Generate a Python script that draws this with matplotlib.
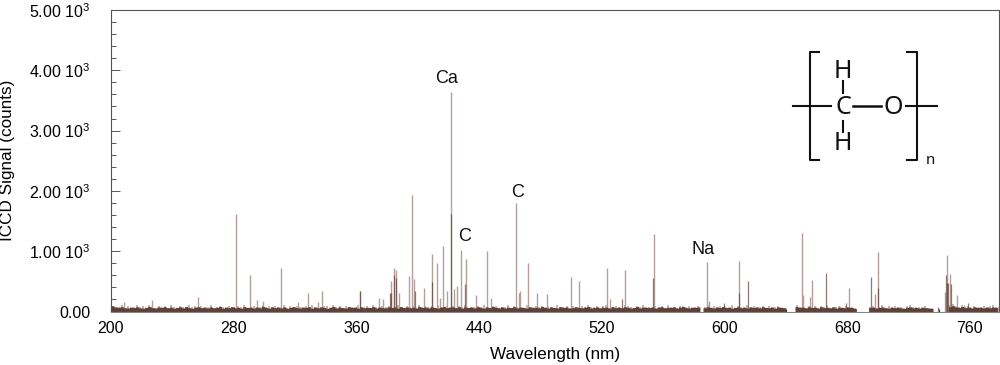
import matplotlib
matplotlib.use('Agg')
import matplotlib.pyplot as plt
import matplotlib.ticker as ticker

plt.rcParams['font.family'] = ['Liberation Sans', 'DejaVu Sans']
plt.rcParams['mathtext.default'] = 'regular'
plt.rcParams['mathtext.fontset'] = 'custom'
plt.rcParams['mathtext.rm'] = 'Liberation Sans'

# strong lines, light colour (nm, counts)
peak_wl = [208.7, 226.5, 256.5, 281.5, 290.8, 295.4, 299.3, 310.8, 322.0, 328.2, 335.0, 337.9,
           362.3, 374.7, 377.1, 382.3, 384.7, 385.8, 387.8, 394.5, 396.0, 397.3, 404.0, 409.3,
           412.3, 414.5, 416.4, 419.3, 422.0, 423.8, 425.6, 428.2, 431.4, 437.9, 445.1, 447.5,
           464.2, 466.0, 466.6, 471.8, 477.9, 484.0, 499.7, 505.1, 523.4, 525.3, 535.1, 554.0,
           588.3, 589.6, 609.6, 650.3, 651.4, 655.5, 656.8, 681.3, 698.0, 700.0, 743.7, 745.2,
           747.0, 751.3, 756.0]
peak_h = [160, 194, 238, 1622, 609, 194, 166, 725, 160, 304, 155, 343,
          343, 221, 205, 509, 720, 687, 310, 587, 1927, 537, 382, 952,
          808, 232, 1080, 343, 3632, 376, 426, 1019, 864, 271, 997, 221,
          1794, 315, 343, 808, 310, 288, 576, 509, 720, 205, 687, 1279,
          819, 166, 836, 1301, 271, 244, 515, 382, 282, 986, 327, 936,
          620, 277, 116]

# the darker lower parts of lines
dark_wl = [362.3, 381.7, 382.3, 384.7, 385.8, 398.4, 409.3, 422.0, 430.8, 532.9, 553.1, 599.4,
           609.6, 615.5, 665.9, 679.2, 695.5, 700.0, 739.4, 744.6, 745.2, 746.0, 748.0, 758.7]
dark_h = [343, 315, 300, 609, 560, 332, 482, 1617, 454, 200, 548, 133,
          300, 504, 642, 133, 565, 382, 78, 609, 470, 465, 454, 133]

# baseline noise, one value per 2 nm from 200 nm
noise_dark = [
    95, 75, 68, 80, 62, 58, 72, 65, 78, 60, 55, 70, 82, 64, 58, 75, 67, 80, 62, 72,
    56, 68, 78, 60, 82, 65, 54, 72, 80, 64, 70, 58, 76, 62, 68, 82, 56, 74, 64, 78,
    60, 70, 55, 80, 66, 72, 58, 75, 62, 84, 68, 56, 78, 64, 72, 60, 76, 54, 70, 82,
    65, 58, 74, 68, 80, 56, 72, 62, 78, 66, 54, 70, 82, 60, 75, 64, 58, 80, 68, 72,
    56, 76, 62, 70, 66, 82, 58, 74, 64, 60, 78, 68, 72, 56, 80, 65, 75, 62, 70, 58,
    82, 66, 74, 60, 78, 68, 56, 72, 84, 64, 70, 76, 62, 80, 58, 74, 66, 72, 60, 78,
    68, 56, 75, 64, 82, 70, 62, 76, 58, 72, 66, 80, 60, 74, 68, 56, 78, 64, 70, 62,
    82, 72, 58, 76, 66, 60, 80, 68, 74, 56, 64, 78, 70, 62, 72, 82, 58, 66, 76, 60,
    68, 74, 56, 80, 64, 72, 62, 78, 70, 58, 66, 82, 60, 74, 68, 64, 76, 56, 72, 80,
    62, 70, 66, 78, 58, 74, 82, 64, 60, 72, 68, 76, 0, 62, 78, 70, 58, 74, 66, 80,
    64, 72, 56, 68, 76, 62, 70, 58, 78, 66, 74, 60, 80, 68, 64, 72, 56, 76, 70, 62,
    0, 0, 0, 82, 68, 74, 60, 78, 66, 72, 58, 80, 64, 70, 62, 76, 56, 74, 68, 60,
    72, 66, 50, 0, 0, 0, 0, 65, 72, 58, 68, 76, 62, 56, 70, 64, 74, 60, 52, 68,
    78, 62, 66, 56, 72, 64, 58, 50, 0, 0, 0, 0, 0, 80, 95, 74, 68, 82, 64, 72,
    58, 78, 66, 70, 60, 76, 62, 74, 68, 64]
noise_light = [
    95, 80, 70, 110, 65, 90, 60, 75, 100, 70, 85, 60, 105, 75, 65, 95, 70, 88, 62, 110,
    72, 66, 92, 78, 60, 100, 70, 85, 64, 96, 74, 68, 108, 62, 82, 90, 70, 60, 98, 76,
    66, 88, 72, 112, 64, 80, 94, 60, 74, 102, 68, 84, 62, 92, 78, 70, 106, 66, 86, 60,
    96, 72, 64, 90, 80, 110, 68, 76, 60, 98, 84, 66, 104, 72, 88, 62, 94, 70, 80, 64,
    112, 74, 68, 90, 60, 100, 78, 66, 86, 72, 96, 62, 82, 108, 70, 64, 92, 76, 88, 60,
    102, 68, 84, 72, 94, 66, 110, 80, 62, 90, 74, 98, 64, 86, 70, 106, 60, 82, 76, 92,
    68, 100, 72, 64, 88, 96, 62, 80, 74, 112, 66, 90, 70, 84, 60, 104, 78, 68, 94, 72,
    86, 62, 98, 76, 66, 108, 80, 70, 90, 64, 96, 74, 60, 88, 82, 102, 68, 72, 92, 62,
    84, 110, 66, 78, 94, 70, 60, 100, 86, 72, 64, 90, 76, 106, 68, 82, 62, 96, 74, 88,
    66, 112, 70, 80, 60, 92, 84, 72, 98, 64, 76, 90, 0, 68, 104, 62, 86, 74, 94, 70,
    82, 66, 100, 60, 88, 78, 72, 108, 64, 92, 80, 68, 84, 62, 96, 74, 70, 90, 66, 60,
    0, 0, 0, 110, 76, 88, 64, 98, 72, 84, 60, 94, 70, 102, 66, 80, 74, 90, 62, 86,
    68, 72, 50, 0, 0, 0, 0, 80, 92, 66, 74, 100, 62, 84, 70, 96, 64, 78, 60, 88,
    104, 68, 82, 72, 60, 90, 66, 50, 0, 0, 0, 0, 0, 100, 120, 86, 74, 108, 70, 92,
    64, 96, 80, 72, 88, 62, 84, 100, 68, 76]

labels = ['Ca', 'C', 'C', 'Na']
label_wl = [418.5, 430.6, 465, 586]
label_h = [3870, 1246, 1977, 1030]

y_ticks = [0, 1000, 2000, 3000, 4000, 5000]
y_ticklabels = ['0.00', '1.00 10$^3$', '2.00 10$^3$', '3.00 10$^3$', '4.00 10$^3$', '5.00 10$^3$']
x_ticks = [200, 280, 360, 440, 520, 600, 680, 760]

LIGHT = '#b3a09a'
DARK = '#5f4037'
AXCOL = '#555555'

fig = plt.figure(figsize=(10, 3.65), dpi=100)
ax = fig.add_axes([0.111, 1 - 311.5 / 365, 0.888, 301.5 / 365])

noise_x = [200 + 2 * i for i in range(len(noise_dark))]
ax.vlines([x + 1 for x in noise_x], 0, noise_light, color=LIGHT, lw=1.1, zorder=1)
ax.vlines(peak_wl, 0, peak_h, color=LIGHT, lw=1.0, zorder=2)
ax.fill_between(noise_x, 0, noise_dark, step='post', color=DARK, lw=0, zorder=3)
ax.vlines(dark_wl, 0, dark_h, color=DARK, lw=0.9, alpha=0.7, zorder=3)

for name, wl, h in zip(labels, label_wl, label_h):
    ax.text(wl, h, name, ha='center', va='center', fontsize=13, color='#111111')

ax.set_xlim(200, 779)
ax.set_ylim(0, 5000)
ax.set_xticks(x_ticks)
ax.xaxis.set_minor_locator(ticker.MultipleLocator(20))
ax.set_yticks(y_ticks)
ax.set_yticklabels(y_ticklabels)
ax.yaxis.set_minor_locator(ticker.MultipleLocator(200))
ax.tick_params(axis='y', which='major', direction='in', length=6.5, width=0.7, color=AXCOL, labelsize=11.5, pad=15)
ax.tick_params(axis='y', which='minor', direction='in', length=3.5, width=0.7, color=AXCOL)
ax.tick_params(axis='x', which='major', direction='in', length=3.5, width=0.8, color='#222222', labelsize=11.5, pad=7)
ax.tick_params(axis='x', which='minor', direction='in', length=2.5, width=0.7, color='#222222')
for s in ax.spines.values():
    s.set_color(AXCOL)
    s.set_linewidth(0.8)
ax.spines['bottom'].set_color('#888888')
ax.spines['bottom'].set_zorder(4)

ax.set_xlabel('Wavelength (nm)', fontsize=12.3)
ax.xaxis.set_label_coords(0.5, -0.118)
ax.set_ylabel('ICCD Signal (counts)', fontsize=12.3)
ax.yaxis.set_label_coords(-0.108, 0.5)

# structure drawing, in picture pixels
ov = fig.add_axes([0, 0, 1, 1], facecolor='none')
ov.set_xlim(0, 1000)
ov.set_ylim(365, 0)
ov.axis('off')
ink = '#111111'
ov.plot([819, 810, 810, 819], [52, 52, 160, 160], color=ink, lw=1.5)
ov.plot([907, 917, 917, 907], [52, 52, 160, 160], color=ink, lw=1.5)
ov.plot([793, 831], [106, 106], color=ink, lw=1.5)
ov.plot([853, 881], [106, 106], color=ink, lw=1.8)
ov.plot([906, 937], [106, 106], color=ink, lw=1.5)
ov.plot([843, 843], [81, 93], color=ink, lw=1.5)
ov.plot([843, 843], [121, 132], color=ink, lw=1.5)
for s, x, y in [('H', 843, 71), ('C', 843, 107), ('H', 843, 143), ('O', 893, 107)]:
    ov.text(x, y, s, ha='center', va='center', fontsize=18, family='Noto Sans', color=ink)
ov.text(930, 160, 'n', ha='center', va='center', fontsize=11, family='Noto Sans', color=ink)

fig.savefig('out.png', dpi=100)
